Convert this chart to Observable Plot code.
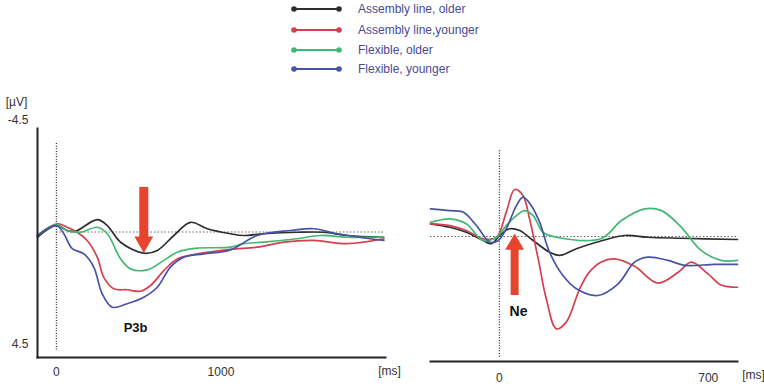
<!DOCTYPE html>
<html><head><meta charset="utf-8">
<script src="https://cdn.jsdelivr.net/npm/d3@7"></script>
<script src="https://cdn.jsdelivr.net/npm/@observablehq/plot@0.6"></script>
<style>
html,body{margin:0;padding:0;background:#fff;}
#wrap{position:relative;width:764px;height:388px;overflow:hidden;font-family:Arial,"Liberation Sans",sans-serif;}
#wrap > *{position:absolute;top:0;}
</style></head><body><div id="wrap"></div>
<script>
// ---- series ----
const seriesNames = ["Assembly line, older", "Assembly line,younger", "Flexible, older", "Flexible, younger"];
const seriesColors = ["#2e2e2e", "#d4404f", "#42b872", "#4852a6"];

// ---- left panel (stimulus-locked, P3b): [ms, µV] ----
const leftAssemblyOlder = [[-115,0.21],[0,-0.26],[66,-0.06],[116,-0.03],[248,-0.5],[309,-0.26],[390,0.41],[531,0.85],[613,0.74],[714,0.14],[815,-0.39],[917,-0.13],[1058,0.07],[1137,0.14],[1259,0.07],[1465,0.01],[1623,0.01],[1769,0.14],[1988,0.21]];
const leftAssemblyYounger = [[-115,0.14],[5,-0.33],[66,-0.19],[126,0.01],[187,0.34],[248,1.01],[288,1.82],[349,2.28],[430,2.32],[511,2.38],[572,2.15],[653,1.55],[734,1.08],[856,0.88],[1058,0.7],[1220,0.61],[1382,0.41],[1564,0.34],[1767,0.47],[1990,0.27]];
const leftFlexibleOlder = [[-115,0.14],[0,-0.3],[66,-0.06],[146,0.01],[248,-0.19],[309,0.07],[390,1.08],[450,1.48],[552,1.52],[653,1.14],[734,0.81],[856,0.65],[1058,0.61],[1137,0.47],[1259,0.41],[1462,0.27],[1603,0.14],[1767,0.21],[1990,0.21]];
const leftFlexibleYounger = [[-115,0.14],[0,-0.26],[45,0.07],[96,0.67],[167,0.88],[227,1.41],[278,2.48],[339,3.02],[430,2.88],[531,2.62],[613,2.22],[693,1.41],[774,1.01],[896,0.88],[1058,0.72],[1220,0.14],[1422,-0.06],[1564,-0.13],[1706,0.07],[1990,0.34]];

// ---- right panel (response-locked, Ne): [ms, µV] ----
const rightAssemblyOlder = [[-231,-0.51],[-166,-0.37],[-111,-0.17],[-55,0.16],[-27,0.29],[1,-0.04],[34,-0.31],[68,-0.24],[113,0.16],[168,0.63],[202,0.76],[258,0.49],[325,0.23],[420,-0.04],[498,0.03],[610,0.07],[798,0.12]];
const rightAssemblyYounger = [[-231,-0.51],[-166,-0.44],[-111,-0.24],[-55,0.09],[-10,0.03],[23,-0.98],[51,-1.89],[79,-1.65],[101,-0.71],[130,0.9],[157,2.5],[191,3.71],[224,3.44],[269,2.1],[300,1.45],[340,1.03],[386,0.9],[453,1.2],[531,1.87],[598,1.45],[643,1.03],[699,1.5],[743,1.95],[798,2.04]];
const rightFlexibleOlder = [[-231,-0.57],[-166,-0.71],[-111,-0.51],[-55,0.16],[-10,0.03],[23,-0.44],[57,-0.84],[85,-1.04],[113,-0.84],[146,-0.17],[191,0.03],[342,0.08],[409,-0.64],[487,-1.11],[543,-1.04],[610,-0.37],[676,0.56],[743,0.96],[798,0.96]];
const rightFlexibleYounger = [[-231,-1.11],[-166,-1.04],[-122,-0.98],[-77,-0.44],[-32,0.23],[-4,0.16],[23,-0.31],[57,-1.24],[79,-1.58],[107,-1.24],[135,-0.57],[168,0.63],[213,1.57],[258,2.1],[330,2.37],[398,1.9],[453,1.03],[498,0.83],[565,0.96],[621,1.16],[721,1.12],[798,1.12]];

// ---- axes / ticks ----
const yDomain = [-4.5, 4.5];
const yTicks = [-4.5, 4.5];
const leftXDomain = [-115, 2000];
const leftXTicks = [0, 1000];
const rightXDomain = [-231, 798];
const rightXTicks = [0, 700];
const xUnit = "[ms]";
const yUnit = "[µV]";

// ---- annotations ----
const leftArrows = [{ms: 531, from: -1.79, to: 0.84}];
const rightArrows = [{ms: 51, from: 2.37, to: -0.12}];
const leftNotes = [{ms: 481, uv: 3.84, label: "P3b"}];
const rightNotes = [{ms: 64, uv: 3.01, label: "Ne"}];
const arrowColor = "#e8432d";

const toRows = (arr, name) => arr.map(([ms, uv]) => ({ms, uv, series: name}));
const leftRows = [leftAssemblyOlder, leftAssemblyYounger, leftFlexibleOlder, leftFlexibleYounger].flatMap((a, i) => toRows(a, seriesNames[i]));
const rightRows = [rightAssemblyOlder, rightAssemblyYounger, rightFlexibleOlder, rightFlexibleYounger].flatMap((a, i) => toRows(a, seriesNames[i]));

const font = "Arial, 'Liberation Sans', sans-serif";
const baseStyle = {background: "transparent", fontFamily: font, fontSize: "12px", color: "#333", overflow: "visible"};
const color = {domain: seriesNames, range: seriesColors};

const left = Plot.plot({
  width: 415, height: 388,
  marginLeft: 37, marginRight: 30, marginTop: 128, marginBottom: 31,
  style: baseStyle,
  x: {domain: leftXDomain, label: null},
  y: {domain: yDomain, range: [119.45, 343.55], label: null},
  color,
  marks: [
    Plot.ruleY([0], {x1: 0, x2: leftXDomain[1], stroke: "#666", strokeDasharray: "1.5,2"}),
    Plot.ruleX([0], {y1: -3.55, y2: 4.76, stroke: "#333", strokeDasharray: "1,1.6", strokeWidth: 1.3}),
    Plot.line(leftRows, {x: "ms", y: "uv", z: "series", stroke: "series", curve: "catmull-rom", strokeWidth: 1.7}),
    Plot.ruleX(leftArrows, {x: "ms", y1: "from", y2: d => d.to - 0.45, stroke: arrowColor, strokeWidth: 9}),
    Plot.dot(leftArrows, {x: "ms", y: "to", symbol: "triangle", r: 7, rotate: 180, fill: arrowColor, dy: -10.9}),
    Plot.text(leftNotes, {x: "ms", y: "uv", text: "label", fontWeight: "bold", fontSize: 13, fill: "#111"}),
    Plot.frame({anchor: "bottom", stroke: "#222", strokeWidth: 2}),
    Plot.frame({anchor: "left", stroke: "#222", strokeWidth: 2}),
    Plot.axisX({ticks: leftXTicks, tickSize: 0, tickPadding: 10, tickFormat: d => String(d)}),
    Plot.axisY({ticks: yTicks, tickSize: 0, tickPadding: 9, tickFormat: d => String(d)}),
    Plot.text([xUnit], {frameAnchor: "bottom-right", textAnchor: "middle", dx: 4, dy: 17, text: d => d, fill: "#333"}),
    Plot.text([yUnit], {frameAnchor: "top-left", textAnchor: "middle", dx: -21, dy: -31, text: d => d, fill: "#333"})
  ]
});

const right = Plot.plot({
  width: 349, height: 388,
  marginLeft: 15, marginRight: 27, marginTop: 128, marginBottom: 27,
  style: baseStyle,
  x: {domain: rightXDomain, label: null},
  y: {domain: yDomain, range: [124, 348], label: null, axis: null},
  color,
  marks: [
    Plot.ruleY([0], {x1: rightXDomain[0], x2: rightXDomain[1], stroke: "#666", strokeDasharray: "1.5,2"}),
    Plot.ruleX([0], {y1: -3.45, y2: 4.9, stroke: "#333", strokeDasharray: "1,1.6", strokeWidth: 1.3}),
    Plot.line(rightRows, {x: "ms", y: "uv", z: "series", stroke: "series", curve: "catmull-rom", strokeWidth: 1.7}),
    Plot.ruleX(rightArrows, {x: "ms", y1: "from", y2: d => d.to + 0.45, stroke: arrowColor, strokeWidth: 8}),
    Plot.dot(rightArrows, {x: "ms", y: "to", symbol: "triangle", r: 7, fill: arrowColor, dy: 10.9}),
    Plot.text(rightNotes, {x: "ms", y: "uv", text: "label", fontWeight: "bold", fontSize: 14, fill: "#111"}),
    Plot.frame({anchor: "bottom", stroke: "#222", strokeWidth: 2}),
    Plot.axisX({ticks: rightXTicks, tickSize: 0, tickPadding: 12, tickFormat: d => String(d)}),
    Plot.text([xUnit], {frameAnchor: "bottom-right", textAnchor: "middle", dx: 16, dy: 17, text: d => d, fill: "#333"})
  ]
});
right.style.left = "415px";
left.style.left = "0px";

const wrap = document.getElementById("wrap");
wrap.appendChild(left);
wrap.appendChild(right);

// ---- legend ----
const legendRowsY = [9, 30, 50, 69];
const leg = d3.create("svg").attr("width", 764).attr("height", 85).style("left", "0px").style("top", "0px");
seriesNames.forEach((name, i) => {
  const g = leg.append("g").attr("transform", `translate(0,${legendRowsY[i]})`);
  g.append("line").attr("x1", 294).attr("x2", 339).attr("y1", 0).attr("y2", 0).attr("stroke", seriesColors[i]).attr("stroke-width", 2);
  g.append("circle").attr("cx", 294).attr("cy", 0).attr("r", 2.8).attr("fill", seriesColors[i]);
  g.append("circle").attr("cx", 339).attr("cy", 0).attr("r", 2.8).attr("fill", seriesColors[i]);
  g.append("text").attr("x", 358).attr("y", 0).attr("dy", "0.35em").attr("font-family", font).attr("font-size", 12).attr("fill", "#4a4a92").text(name);
});
wrap.appendChild(leg.node());
</script></body></html>
